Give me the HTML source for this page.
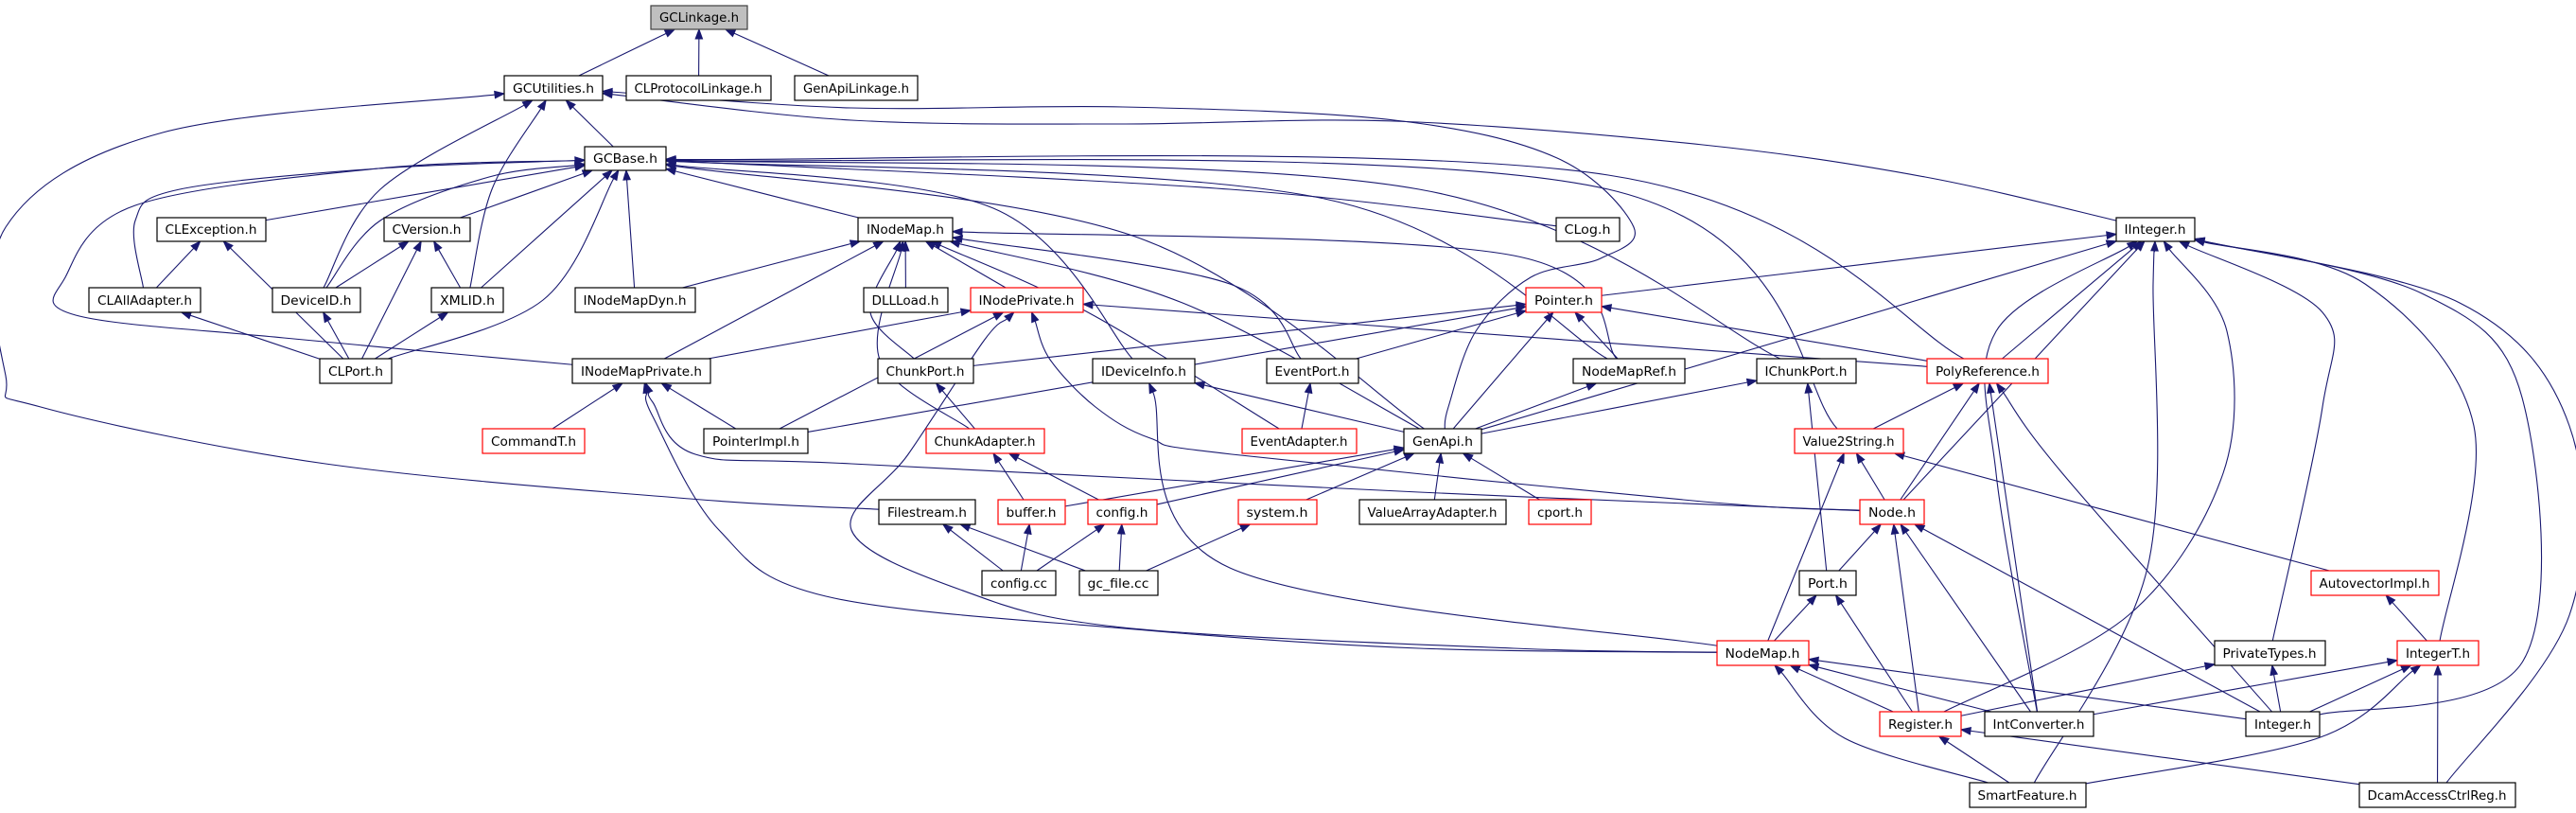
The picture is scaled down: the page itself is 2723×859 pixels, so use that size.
<!DOCTYPE html>
<html><head><meta charset="utf-8"><style>
html,body{margin:0;padding:0;background:#fff;width:2723px;height:859px;overflow:hidden}
svg text{font-family:"DejaVu Sans","Liberation Sans",sans-serif;font-size:13px;fill:#000}
</style></head><body>
<svg id="g" width="2723" height="859" viewBox="0 0 2723 859" xmlns="http://www.w3.org/2000/svg">
<g id="edges" fill="none" stroke="#191970" stroke-width="1.1"></g>
<g id="arrows" fill="#191970" stroke="#191970"></g>
<g id="nodes" stroke-width="1.2">
<rect x="688" y="6" width="102" height="25" fill="#bfbfbf" stroke="#404040"/><text x="739" y="23" text-anchor="middle" textLength="84" lengthAdjust="spacingAndGlyphs">GCLinkage.h</text>
<rect x="533" y="80" width="104" height="26" fill="#fff" stroke="#000"/><text x="585" y="98" text-anchor="middle" textLength="86" lengthAdjust="spacingAndGlyphs">GCUtilities.h</text>
<rect x="662" y="80" width="153" height="26" fill="#fff" stroke="#000"/><text x="738" y="98" text-anchor="middle" textLength="135" lengthAdjust="spacingAndGlyphs">CLProtocolLinkage.h</text>
<rect x="840" y="80" width="130" height="26" fill="#fff" stroke="#000"/><text x="905" y="98" text-anchor="middle" textLength="112" lengthAdjust="spacingAndGlyphs">GenApiLinkage.h</text>
<rect x="618" y="155" width="86" height="25" fill="#fff" stroke="#000"/><text x="661" y="172" text-anchor="middle" textLength="68" lengthAdjust="spacingAndGlyphs">GCBase.h</text>
<rect x="166" y="230" width="115" height="25" fill="#fff" stroke="#000"/><text x="223" y="247" text-anchor="middle" textLength="97" lengthAdjust="spacingAndGlyphs">CLException.h</text>
<rect x="406" y="230" width="91" height="25" fill="#fff" stroke="#000"/><text x="451" y="247" text-anchor="middle" textLength="73" lengthAdjust="spacingAndGlyphs">CVersion.h</text>
<rect x="907" y="230" width="100" height="25" fill="#fff" stroke="#000"/><text x="957" y="247" text-anchor="middle" textLength="82" lengthAdjust="spacingAndGlyphs">INodeMap.h</text>
<rect x="1645" y="230" width="67" height="25" fill="#fff" stroke="#000"/><text x="1678" y="247" text-anchor="middle" textLength="49" lengthAdjust="spacingAndGlyphs">CLog.h</text>
<rect x="2237" y="230" width="83" height="25" fill="#fff" stroke="#000"/><text x="2278" y="247" text-anchor="middle" textLength="65" lengthAdjust="spacingAndGlyphs">IInteger.h</text>
<rect x="94" y="304" width="118" height="26" fill="#fff" stroke="#000"/><text x="153" y="322" text-anchor="middle" textLength="100" lengthAdjust="spacingAndGlyphs">CLAllAdapter.h</text>
<rect x="288" y="304" width="93" height="26" fill="#fff" stroke="#000"/><text x="334" y="322" text-anchor="middle" textLength="75" lengthAdjust="spacingAndGlyphs">DeviceID.h</text>
<rect x="456" y="304" width="76" height="26" fill="#fff" stroke="#000"/><text x="494" y="322" text-anchor="middle" textLength="58" lengthAdjust="spacingAndGlyphs">XMLID.h</text>
<rect x="608" y="304" width="127" height="26" fill="#fff" stroke="#000"/><text x="671" y="322" text-anchor="middle" textLength="109" lengthAdjust="spacingAndGlyphs">INodeMapDyn.h</text>
<rect x="913" y="304" width="89" height="26" fill="#fff" stroke="#000"/><text x="957" y="322" text-anchor="middle" textLength="71" lengthAdjust="spacingAndGlyphs">DLLLoad.h</text>
<rect x="1026" y="304" width="119" height="26" fill="#fff" stroke="#f00"/><text x="1085" y="322" text-anchor="middle" textLength="101" lengthAdjust="spacingAndGlyphs">INodePrivate.h</text>
<rect x="1613" y="304" width="80" height="26" fill="#fff" stroke="#f00"/><text x="1653" y="322" text-anchor="middle" textLength="62" lengthAdjust="spacingAndGlyphs">Pointer.h</text>
<rect x="338" y="379" width="76" height="26" fill="#fff" stroke="#000"/><text x="376" y="397" text-anchor="middle" textLength="58" lengthAdjust="spacingAndGlyphs">CLPort.h</text>
<rect x="605" y="379" width="146" height="26" fill="#fff" stroke="#000"/><text x="678" y="397" text-anchor="middle" textLength="128" lengthAdjust="spacingAndGlyphs">INodeMapPrivate.h</text>
<rect x="928" y="379" width="101" height="26" fill="#fff" stroke="#000"/><text x="978" y="397" text-anchor="middle" textLength="83" lengthAdjust="spacingAndGlyphs">ChunkPort.h</text>
<rect x="1155" y="379" width="108" height="26" fill="#fff" stroke="#000"/><text x="1209" y="397" text-anchor="middle" textLength="90" lengthAdjust="spacingAndGlyphs">IDeviceInfo.h</text>
<rect x="1339" y="379" width="97" height="26" fill="#fff" stroke="#000"/><text x="1387" y="397" text-anchor="middle" textLength="79" lengthAdjust="spacingAndGlyphs">EventPort.h</text>
<rect x="1663" y="379" width="118" height="26" fill="#fff" stroke="#000"/><text x="1722" y="397" text-anchor="middle" textLength="100" lengthAdjust="spacingAndGlyphs">NodeMapRef.h</text>
<rect x="1857" y="379" width="105" height="26" fill="#fff" stroke="#000"/><text x="1909" y="397" text-anchor="middle" textLength="87" lengthAdjust="spacingAndGlyphs">IChunkPort.h</text>
<rect x="2037" y="379" width="128" height="26" fill="#fff" stroke="#f00"/><text x="2101" y="397" text-anchor="middle" textLength="110" lengthAdjust="spacingAndGlyphs">PolyReference.h</text>
<rect x="510" y="453" width="108" height="26" fill="#fff" stroke="#f00"/><text x="564" y="471" text-anchor="middle" textLength="90" lengthAdjust="spacingAndGlyphs">CommandT.h</text>
<rect x="744" y="453" width="110" height="26" fill="#fff" stroke="#000"/><text x="799" y="471" text-anchor="middle" textLength="92" lengthAdjust="spacingAndGlyphs">PointerImpl.h</text>
<rect x="979" y="453" width="125" height="26" fill="#fff" stroke="#f00"/><text x="1041" y="471" text-anchor="middle" textLength="107" lengthAdjust="spacingAndGlyphs">ChunkAdapter.h</text>
<rect x="1313" y="453" width="121" height="26" fill="#fff" stroke="#f00"/><text x="1373" y="471" text-anchor="middle" textLength="103" lengthAdjust="spacingAndGlyphs">EventAdapter.h</text>
<rect x="1484" y="453" width="82" height="26" fill="#fff" stroke="#000"/><text x="1525" y="471" text-anchor="middle" textLength="64" lengthAdjust="spacingAndGlyphs">GenApi.h</text>
<rect x="1897" y="453" width="115" height="26" fill="#fff" stroke="#f00"/><text x="1954" y="471" text-anchor="middle" textLength="97" lengthAdjust="spacingAndGlyphs">Value2String.h</text>
<rect x="929" y="528" width="102" height="26" fill="#fff" stroke="#000"/><text x="980" y="546" text-anchor="middle" textLength="84" lengthAdjust="spacingAndGlyphs">Filestream.h</text>
<rect x="1055" y="528" width="71" height="26" fill="#fff" stroke="#f00"/><text x="1090" y="546" text-anchor="middle" textLength="53" lengthAdjust="spacingAndGlyphs">buffer.h</text>
<rect x="1150" y="528" width="73" height="26" fill="#fff" stroke="#f00"/><text x="1186" y="546" text-anchor="middle" textLength="55" lengthAdjust="spacingAndGlyphs">config.h</text>
<rect x="1309" y="528" width="83" height="26" fill="#fff" stroke="#f00"/><text x="1350" y="546" text-anchor="middle" textLength="65" lengthAdjust="spacingAndGlyphs">system.h</text>
<rect x="1437" y="528" width="155" height="26" fill="#fff" stroke="#000"/><text x="1514" y="546" text-anchor="middle" textLength="137" lengthAdjust="spacingAndGlyphs">ValueArrayAdapter.h</text>
<rect x="1616" y="528" width="66" height="26" fill="#fff" stroke="#f00"/><text x="1649" y="546" text-anchor="middle" textLength="48" lengthAdjust="spacingAndGlyphs">cport.h</text>
<rect x="1966" y="528" width="68" height="26" fill="#fff" stroke="#f00"/><text x="2000" y="546" text-anchor="middle" textLength="50" lengthAdjust="spacingAndGlyphs">Node.h</text>
<rect x="1038" y="603" width="78" height="26" fill="#fff" stroke="#000"/><text x="1077" y="621" text-anchor="middle" textLength="60" lengthAdjust="spacingAndGlyphs">config.cc</text>
<rect x="1141" y="603" width="83" height="26" fill="#fff" stroke="#000"/><text x="1182" y="621" text-anchor="middle" textLength="65" lengthAdjust="spacingAndGlyphs">gc_file.cc</text>
<rect x="1902" y="603" width="60" height="26" fill="#fff" stroke="#000"/><text x="1932" y="621" text-anchor="middle" textLength="42" lengthAdjust="spacingAndGlyphs">Port.h</text>
<rect x="2443" y="603" width="135" height="26" fill="#fff" stroke="#f00"/><text x="2510" y="621" text-anchor="middle" textLength="117" lengthAdjust="spacingAndGlyphs">AutovectorImpl.h</text>
<rect x="1815" y="677" width="97" height="26" fill="#fff" stroke="#f00"/><text x="1863" y="695" text-anchor="middle" textLength="79" lengthAdjust="spacingAndGlyphs">NodeMap.h</text>
<rect x="2341" y="677" width="117" height="26" fill="#fff" stroke="#000"/><text x="2399" y="695" text-anchor="middle" textLength="99" lengthAdjust="spacingAndGlyphs">PrivateTypes.h</text>
<rect x="2534" y="677" width="86" height="26" fill="#fff" stroke="#f00"/><text x="2577" y="695" text-anchor="middle" textLength="68" lengthAdjust="spacingAndGlyphs">IntegerT.h</text>
<rect x="1987" y="752" width="86" height="26" fill="#fff" stroke="#f00"/><text x="2030" y="770" text-anchor="middle" textLength="68" lengthAdjust="spacingAndGlyphs">Register.h</text>
<rect x="2098" y="752" width="115" height="26" fill="#fff" stroke="#000"/><text x="2155" y="770" text-anchor="middle" textLength="97" lengthAdjust="spacingAndGlyphs">IntConverter.h</text>
<rect x="2374" y="752" width="78" height="26" fill="#fff" stroke="#000"/><text x="2413" y="770" text-anchor="middle" textLength="60" lengthAdjust="spacingAndGlyphs">Integer.h</text>
<rect x="2082" y="827" width="123" height="26" fill="#fff" stroke="#000"/><text x="2143" y="845" text-anchor="middle" textLength="105" lengthAdjust="spacingAndGlyphs">SmartFeature.h</text>
<rect x="2494" y="827" width="165" height="26" fill="#fff" stroke="#000"/><text x="2576" y="845" text-anchor="middle" textLength="147" lengthAdjust="spacingAndGlyphs">DcamAccessCtrlReg.h</text>
</g>
</svg>
<script>
var N={GCLinkage:[688,6,790,31],GCUtilities:[533,80,637,106],CLProtocolLinkage:[662,80,815,106],GenApiLinkage:[840,80,970,106],
GCBase:[618,155,704,180],CLException:[166,230,281,255],CVersion:[406,230,497,255],INodeMap:[907,230,1007,255],CLog:[1645,230,1712,255],IInteger:[2237,230,2320,255],
CLAllAdapter:[94,304,212,330],DeviceID:[288,304,381,330],XMLID:[456,304,532,330],INodeMapDyn:[608,304,735,330],DLLLoad:[913,304,1002,330],INodePrivate:[1026,304,1145,330],Pointer:[1613,304,1693,330],
CLPort:[338,379,414,405],INodeMapPrivate:[605,379,751,405],ChunkPort:[928,379,1029,405],IDeviceInfo:[1155,379,1263,405],EventPort:[1339,379,1436,405],NodeMapRef:[1663,379,1781,405],IChunkPort:[1857,379,1962,405],PolyReference:[2037,379,2165,405],
CommandT:[510,453,618,479],PointerImpl:[744,453,854,479],ChunkAdapter:[979,453,1104,479],EventAdapter:[1313,453,1434,479],GenApi:[1484,453,1566,479],Value2String:[1897,453,2012,479],
Filestream:[929,528,1031,554],buffer:[1055,528,1126,554],config_h:[1150,528,1223,554],system:[1309,528,1392,554],ValueArrayAdapter:[1437,528,1592,554],cport:[1616,528,1682,554],Node:[1966,528,2034,554],
configcc:[1038,603,1116,629],gcfile:[1141,603,1224,629],Port:[1902,603,1962,629],AutovectorImpl:[2443,603,2578,629],
NodeMap:[1815,677,1912,703],PrivateTypes:[2341,677,2458,703],IntegerT:[2534,677,2620,703],
Register:[1987,752,2073,778],IntConverter:[2098,752,2213,778],Integer:[2374,752,2452,778],SmartFeature:[2082,827,2205,853],Dcam:[2494,827,2659,853]};
var E=[
["GCUtilities","GCLinkage"],["CLProtocolLinkage","GCLinkage"],["GenApiLinkage","GCLinkage"],
["GCBase","GCUtilities"],["XMLID","GCUtilities",[[520,200]]],["DeviceID","GCUtilities",[[402,200]]],
["Filestream","GCUtilities",[[729,527],[344,490],[43,430],[6,397],[6,240],[172,140]]],
["GenApi","GCUtilities",[[1531,430],[1560,350],[1618,293],[1692,273],[1727,240],[1646,167],[1474,127],[1187,113],[900,114]]],
["IInteger","GCUtilities",[[2035,187],[1800,153],[1474,128],[1187,131],[900,127]]],
["CLException","GCBase"],["CVersion","GCBase"],["CLAllAdapter","GCBase",[[143,233],[190,200],[400,178]]],
["DeviceID","GCBase",[[402,233],[517,187]]],["XMLID","GCBase"],["CLPort","GCBase",[[574,317]]],["INodeMapDyn","GCBase"],["INodeMap","GCBase"],
["INodeMapPrivate","GCBase",[[300,357],[80,333],[69,293],[143,217],[400,178]]],
["CLog","GCBase",[[1300,200]]],["GenApi","GCBase",[[1200,250]]],["IDeviceInfo","GCBase",[[1050,220]]],["IChunkPort","GCBase",[[1500,200]]],["Value2String","GCBase",[[1700,200]]],["PolyReference","GCBase",[[1700,185]]],["NodeMapRef","GCBase",[[1400,210]]],
["CLAllAdapter","CLException"],["CLPort","CLException"],["DeviceID","CVersion"],["XMLID","CVersion"],["CLPort","CVersion"],
["CLPort","CLAllAdapter"],["CLPort","DeviceID"],["CLPort","XMLID"],
["INodeMapDyn","INodeMap"],["DLLLoad","INodeMap"],["INodePrivate","INodeMap"],["INodeMapPrivate","INodeMap"],["ChunkPort","INodeMap",[[920,330]]],["ChunkAdapter","INodeMap",[[930,380]]],
["EventPort","INodeMap",[[1300,300]]],["GenApi","INodeMap",[[1250,320]]],["NodeMapRef","INodeMap",[[1600,270]]],["EventAdapter","INodeMap",[[1150,330]]],
["INodeMapPrivate","INodePrivate"],["PointerImpl","INodePrivate"],["NodeMap","INodePrivate",[[1600,685],[1187,663],[1015,623],[900,560],[960,480],[1040,360]]],["Node","INodePrivate",[[1800,530],[1302,480],[1216,463],[1158,430],[1110,380]]],["PolyReference","INodePrivate"],
["ChunkPort","Pointer"],["EventPort","Pointer"],["NodeMapRef","Pointer"],["GenApi","Pointer"],["PointerImpl","Pointer"],["PolyReference","Pointer"],["Pointer","IInteger"],
["CommandT","INodeMapPrivate"],["PointerImpl","INodeMapPrivate"],["NodeMap","INodeMapPrivate",[[1500,685],[1200,665],[873,630],[760,560],[690,440]]],["Node","INodeMapPrivate",[[1500,520],[900,490],[735,480],[690,425]]],
["ChunkAdapter","ChunkPort"],["EventAdapter","EventPort"],["GenApi","IDeviceInfo"],["NodeMap","IDeviceInfo",[[1300,600]]],["GenApi","NodeMapRef"],["GenApi","IChunkPort"],["Port","IChunkPort"],
["buffer","ChunkAdapter"],["config_h","ChunkAdapter"],
["buffer","GenApi"],["config_h","GenApi"],["system","GenApi"],["ValueArrayAdapter","GenApi"],["cport","GenApi"],
["GenApi","IInteger"],["PolyReference","IInteger"],["Node","IInteger"],
["IntConverter","IInteger",[[2110,500],[2110,350]]],["Register","IInteger",[[2250,650],[2350,500],[2354,350]]],
["SmartFeature","IInteger",[[2270,600],[2276,300]]],["PrivateTypes","IInteger",[[2455,430],[2455,330]]],
["IntegerT","IInteger",[[2615,450],[2500,300]]],["Integer","IInteger",[[2666,700],[2666,420],[2560,310]]],["Dcam","IInteger",[[2716,650],[2716,450],[2600,320]]],
["Value2String","PolyReference"],["Node","PolyReference"],["IntConverter","PolyReference"],["Integer","PolyReference",[[2180,500]]],
["Node","Value2String"],["NodeMap","Value2String"],["AutovectorImpl","Value2String"],
["Port","Node"],["Register","Node"],["IntConverter","Node"],["Integer","Node"],
["configcc","Filestream"],["gcfile","Filestream"],["configcc","buffer"],["configcc","config_h"],["gcfile","config_h"],["gcfile","system"],
["NodeMap","Port"],["Register","Port"],["IntegerT","AutovectorImpl"],
["Register","NodeMap"],["IntConverter","NodeMap"],["Integer","NodeMap"],["SmartFeature","NodeMap",[[1950,780]]],
["Register","PrivateTypes"],["Integer","PrivateTypes"],
["IntConverter","IntegerT"],["Integer","IntegerT"],["SmartFeature","IntegerT",[[2450,780]]],["Dcam","IntegerT"],
["SmartFeature","Register"],["Dcam","Register"]];
function ctr(b){return[(b[0]+b[2])/2,(b[1]+b[3])/2];}
function bd(b,t){var c=ctr(b),hw=(b[2]-b[0])/2,hh=(b[3]-b[1])/2,dx=t[0]-c[0],dy=t[1]-c[1];
var s=Math.min(dx?hw/Math.abs(dx):1e9,dy?hh/Math.abs(dy):1e9);return[c[0]+dx*s,c[1]+dy*s];}
var eg=document.getElementById('edges'),ag=document.getElementById('arrows'),ns='http://www.w3.org/2000/svg';
E.forEach(function(e){var c=N[e[0]],p=N[e[1]],w=e[2]||[];
var a=bd(c,w.length?w[0]:ctr(p)),b=bd(p,w.length?w[w.length-1]:ctr(c));
var last=w.length?w[w.length-1]:a;var dx=b[0]-last[0],dy=b[1]-last[1],L=Math.hypot(dx,dy)||1;dx/=L;dy/=L;
var al=10,b2=[b[0]-dx*al,b[1]-dy*al];
var pts=[a].concat(w,[b2]);var d='M'+pts[0][0]+','+pts[0][1];
for(var i=0;i<pts.length-1;i++){var p0=pts[i-1]||pts[i],p1=pts[i],p2=pts[i+1],p3=pts[i+2]||p2;
d+=' C'+(p1[0]+(p2[0]-p0[0])/6)+','+(p1[1]+(p2[1]-p0[1])/6)+' '+(p2[0]-(p3[0]-p1[0])/6)+','+(p2[1]-(p3[1]-p1[1])/6)+' '+p2[0]+','+p2[1];}
var pa=document.createElementNS(ns,'path');pa.setAttribute('d',d);eg.appendChild(pa);
var px=-dy*3.7,py=dx*3.7;var tr=document.createElementNS(ns,'polygon');
tr.setAttribute('points',b[0]+','+b[1]+' '+(b2[0]+px)+','+(b2[1]+py)+' '+(b2[0]-px)+','+(b2[1]-py));ag.appendChild(tr);});
</script>
</body></html>
